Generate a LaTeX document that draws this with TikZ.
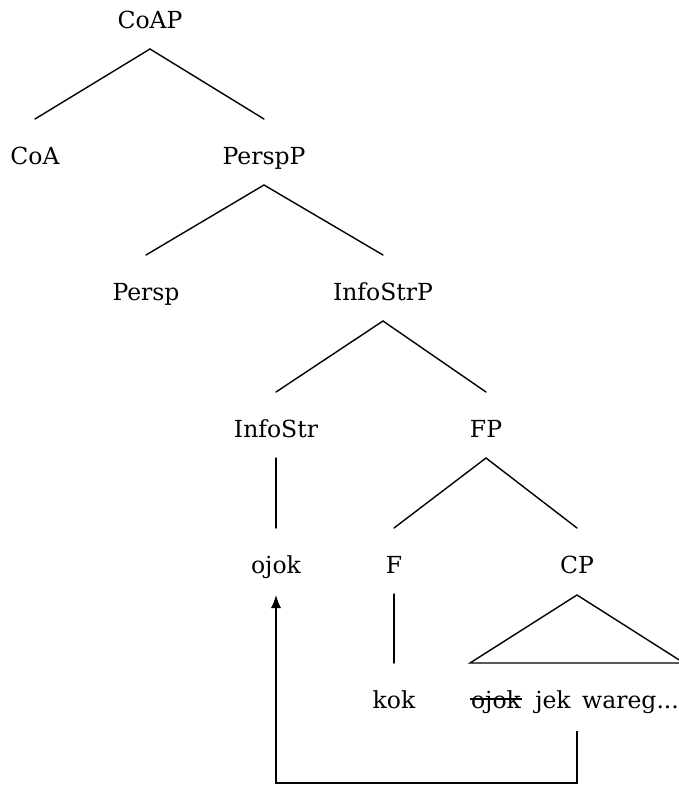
\documentclass[tikz,border=0pt]{standalone}
\usepackage{fontspec}
\setmainfont{DejaVu Serif}
\usetikzlibrary{arrows.meta}

\begin{document}
\begin{tikzpicture}[
    x=1pt, y=-1pt,
    lbl/.style={anchor=base, inner sep=0pt, font=\fontsize{23.5}{28}\selectfont},
    branch/.style={line width=1.4pt, line cap=round},
    movearrow/.style={line width=1.4pt, -{Latex[length=13pt,width=10pt]}}
  ]
  \useasboundingbox (0,0) rectangle (678,785);

  % tree labels, one row per level
  \node[lbl] (coap)     at (150,28)  {CoAP};
  \node[lbl] (coa)      at (35,164)  {CoA};
  \node[lbl] (perspp)   at (264,164) {PerspP};
  \node[lbl] (persp)    at (146,300) {Persp};
  \node[lbl] (infostrp) at (383,300) {InfoStrP};
  \node[lbl] (infostr)  at (276,437) {InfoStr};
  \node[lbl] (fp)       at (486,437) {FP};
  \node[lbl] (ojok)     at (276,573) {ojok};
  \node[lbl] (f)        at (394,573) {F};
  \node[lbl] (cp)       at (577,573) {CP};
  \node[lbl] (kok)      at (394,708) {kok};
  \node[lbl] (struck)   at (496,708) {ojok};
  \node[lbl] (jek)      at (553,708) {jek};
  \node[lbl, anchor=base west] (wareg) at (582,708) {wareg...};

  % branches: from just below a parent to just above its child
  \draw[branch] ([yshift=-21pt]coap.base) -- ([yshift=45pt]coa.base);
  \draw[branch] ([yshift=-21pt]coap.base) -- ([yshift=45pt]perspp.base);
  \draw[branch] ([yshift=-21pt]perspp.base) -- ([yshift=45pt]persp.base);
  \draw[branch] ([yshift=-21pt]perspp.base) -- ([yshift=45pt]infostrp.base);
  \draw[branch] ([yshift=-21pt]infostrp.base) -- ([yshift=45pt]infostr.base);
  \draw[branch] ([yshift=-21pt]infostrp.base) -- ([yshift=45pt]fp.base);
  \draw[branch] ([yshift=-21pt]infostr.base) -- ([yshift=45pt]ojok.base);
  \draw[branch] ([yshift=-21pt]fp.base) -- ([yshift=45pt]f.base);
  \draw[branch] ([yshift=-21pt]fp.base) -- ([yshift=45pt]cp.base);
  \draw[branch] ([yshift=-21pt]f.base) -- ([yshift=45pt]kok.base);

  % roof over the CP material
  \coordinate (roofleft)  at (470,663);
  \coordinate (roofright) at (684,663);
  \draw[branch, line join=miter] (roofleft) -- ([yshift=-22pt]cp.base) -- (roofright) -- cycle;

  % deleted lower copy
  \draw[line width=1.3pt] ([xshift=-1pt,yshift=9pt]struck.base west) -- ([xshift=1pt,yshift=9pt]struck.base east);

  % movement arrow from the lower copy up to the landing site
  \coordinate (trace) at (577,731);
  \draw[movearrow] (trace) -- ++(0,52) -| ([yshift=-22pt]ojok.base);
\end{tikzpicture}
\end{document}
